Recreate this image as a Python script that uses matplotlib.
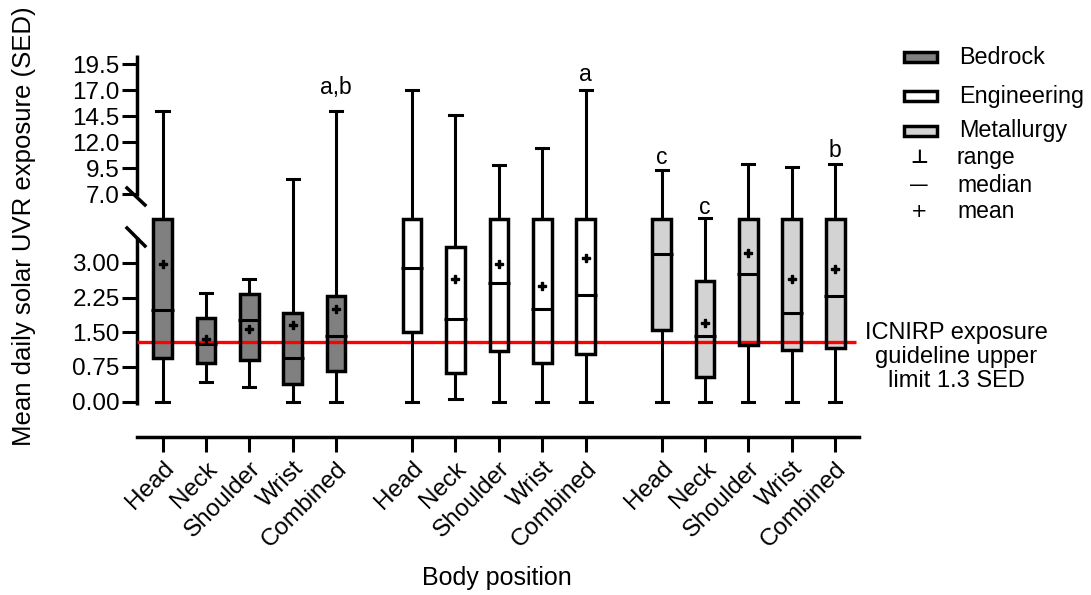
import numpy as np
import matplotlib
matplotlib.use("Agg")
import matplotlib.pyplot as plt
from matplotlib import transforms
from matplotlib.lines import Line2D
from matplotlib.patches import PathPatch, Rectangle

plt.rcParams['font.family'] = ['Liberation Sans', 'DejaVu Sans']

# ---------------- data ----------------
body = ["Head", "Neck", "Shoulder", "Wrist", "Combined"]
groups = ["Bedrock", "Engineering", "Metallurgy"]
group_colors = ["#808080", "#ffffff", "#d3d3d3"]

bed_min = [0.0, 0.42, 0.32, 0.0, 0.0]
bed_q1 = [0.95, 0.84, 0.89, 0.38, 0.66]
bed_med = [1.97, 1.25, 1.76, 0.94, 1.42]
bed_q3 = [3.95, 1.80, 2.32, 1.92, 2.29]
bed_max = [15.0, 2.34, 2.66, 8.44, 15.0]
bed_mean = [2.97, 1.35, 1.58, 1.65, 2.00]

eng_min = [0.0, 0.06, 0.0, 0.0, 0.0]
eng_q1 = [1.51, 0.63, 1.10, 0.83, 1.02]
eng_med = [2.89, 1.79, 2.56, 2.00, 2.30]
eng_q3 = [3.95, 3.34, 3.95, 3.95, 3.95]
eng_max = [17.0, 14.65, 9.82, 11.42, 17.0]
eng_mean = [np.nan, 2.64, 2.97, 2.50, 3.10]

met_min = [0.0, 0.0, 0.0, 0.0, 0.0]
met_q1 = [1.55, 0.54, 1.22, 1.12, 1.15]
met_med = [3.18, 1.42, 2.75, 1.91, 2.28]
met_q3 = [3.95, 2.61, 3.95, 3.95, 3.95]
met_max = [9.34, 4.0, 9.91, 9.65, 9.91]
met_mean = [np.nan, 1.71, 3.22, 2.65, 2.87]

guideline = 1.3
letters = {(0, 4): "a,b", (1, 4): "a", (2, 0): "c", (2, 1): "c", (2, 4): "b"}

ytick_vals = [0.0, 0.75, 1.5, 2.25, 3.0, 7.0, 9.5, 12.0, 14.5, 17.0, 19.5]
ytick_labels = ["0.00", "0.75", "1.50", "2.25", "3.00", "7.0", "9.5", "12.0", "14.5", "17.0", "19.5"]

# ---------------- broken-axis scale ----------------
L, G = 3.95, 7.0
KG, KU = 0.1735, 0.2246


def fwd(v):
    v = np.asarray(v, dtype=float)
    return np.where(v <= L, v,
                    np.where(v <= G, L + (v - L) * KG,
                             L + (G - L) * KG + (v - G) * KU))


def inv(u):
    u = np.asarray(u, dtype=float)
    u1 = L + (G - L) * KG
    return np.where(u <= L, u,
                    np.where(u <= u1, L + (u - L) / KG, G + (u - u1) / KU))


W, H = 1091, 595
fig = plt.figure(figsize=(W / 100, H / 100), dpi=100)
ax = fig.add_axes([137 / W, 1 - 436.7 / H, (859.5 - 137) / W, (436.7 - 55) / H])
ax.set_yscale('function', functions=(fwd, inv))
ax.set_ylim(-0.756, 20.40)
ax.set_xlim(-0.588, 16.06)

LW = 2.2
all_min = [bed_min, eng_min, met_min]
all_q1 = [bed_q1, eng_q1, met_q1]
all_med = [bed_med, eng_med, met_med]
all_q3 = [bed_q3, eng_q3, met_q3]
all_max = [bed_max, eng_max, met_max]
all_mean = [bed_mean, eng_mean, met_mean]

GROUP_STEP = 5.75
positions_all = []
for g in range(3):
    stats = []
    pos = [i + GROUP_STEP * g for i in range(len(body))]
    positions_all += pos
    for i in range(len(body)):
        stats.append(dict(med=all_med[g][i], q1=all_q1[g][i], q3=all_q3[g][i],
                          whislo=all_min[g][i], whishi=all_max[g][i],
                          mean=all_mean[g][i], label=body[i]))
    res = ax.bxp(stats, positions=pos, widths=0.43, patch_artist=True,
                 showmeans=True, showfliers=False, manage_ticks=False,
                 boxprops=dict(facecolor=group_colors[g], edgecolor='none'),
                 whiskerprops=dict(color='k', lw=LW, solid_capstyle='butt'),
                 capprops=dict(color='k', lw=LW),
                 medianprops=dict(color='k', lw=LW),
                 meanprops=dict(marker='P', markerfacecolor='k', markeredgecolor='k',
                                markersize=5.5),
                 capwidths=0.28, zorder=3)
    for b in res['boxes']:
        b.set_zorder(2)
        ax.add_patch(PathPatch(b.get_path(), facecolor='none', edgecolor='k',
                               lw=LW + 0.3, zorder=3.5, joinstyle='miter'))
    for m in res['medians']:
        x0, x1 = m.get_xdata()[0], m.get_xdata()[1]
        m.set_xdata([x0 - 0.04, x1 + 0.04])
        m.set_zorder(4)
    for w in res['whiskers']:
        w.set_zorder(3)

# guideline
ax.plot([-0.588, 15.98], [guideline, guideline], color='#ff0000', lw=LW + 0.2, zorder=2.6,
        solid_capstyle='butt')

# letters
offsets = {(0, 4): 12, (1, 4): 7, (2, 0): 4.5, (2, 1): 3.5, (2, 4): 5}
for (g, i), t in letters.items():
    ax.annotate(t, (i + GROUP_STEP * g, all_max[g][i]), xytext=(0, offsets[(g, i)]),
                textcoords='offset points', ha='center', va='baseline', fontsize=16.5)

# axes styling
for s in ['top', 'right', 'left']:
    ax.spines[s].set_visible(False)
ax.spines['bottom'].set_linewidth(LW + 0.3)
ax.set_xticks(positions_all)
ax.set_xticklabels(body * 3, rotation=45, ha='right', va='top', rotation_mode='anchor',
                   fontsize=17.5)
ax.tick_params(axis='x', length=11, width=LW, pad=4)
ax.set_yticks(ytick_vals)
ax.set_yticklabels(ytick_labels, fontsize=17.5)
ax.yaxis.set_minor_locator(matplotlib.ticker.NullLocator())
ax.tick_params(axis='y', length=10.5, width=LW, pad=2, direction='out')

# left spine segments
bt = transforms.blended_transform_factory(ax.transAxes, ax.transData)
ax.plot([0, 0], [-0.07, 3.56], transform=bt, color='k', lw=LW + 0.3, clip_on=False,
        solid_capstyle='butt')
ax.plot([0, 0], [6.79, 20.40], transform=bt, color='k', lw=LW + 0.3, clip_on=False,
        solid_capstyle='butt')
# break marks
for (x0, y0, x1, y1) in [(127, 188, 145, 205), (127, 228, 145, 246)]:
    fig.add_artist(Line2D([x0 / W, x1 / W], [1 - y0 / H, 1 - y1 / H],
                          transform=fig.transFigure, color='k', lw=LW + 0.3))

# axis titles
fig.text(24 / W, 1 - 226 / H, "Mean daily solar UVR exposure (SED)", rotation=90,
         ha='center', va='center', fontsize=18.5)
fig.text(497 / W, 1 - 578 / H, "Body position", ha='center', va='center', fontsize=18)

# legend (manual)
leg_y = [57, 96, 131]
for g in range(3):
    fig.add_artist(Rectangle((904 / W, 1 - (leg_y[g] + 5) / H), 33 / W, 10 / H,
                             transform=fig.transFigure, facecolor=group_colors[g],
                             edgecolor='k', lw=LW + 0.3))
    fig.text(959 / W, 1 - leg_y[g] / H, groups[g], ha='left', va='center', fontsize=16.8)
sym = [("⊥", "range", 158, 'bold'), ("—", "median", 185, 'normal'), ("+", "mean", 211, 'normal')]
for s, t, y, fw in sym:
    fig.text(919 / W, 1 - y / H, s, ha='center', va='center', fontsize=14,
             family=['DejaVu Sans'], fontweight=fw)
    fig.text(957 / W, 1 - y / H, t, ha='left', va='center', fontsize=16.5)

fig.text(956 / W, 1 - 357 / H, "ICNIRP exposure\nguideline upper\nlimit 1.3 SED",
         ha='center', va='center', multialignment='center', fontsize=17,
         linespacing=1.12)

fig.savefig("out.png", dpi=100)
